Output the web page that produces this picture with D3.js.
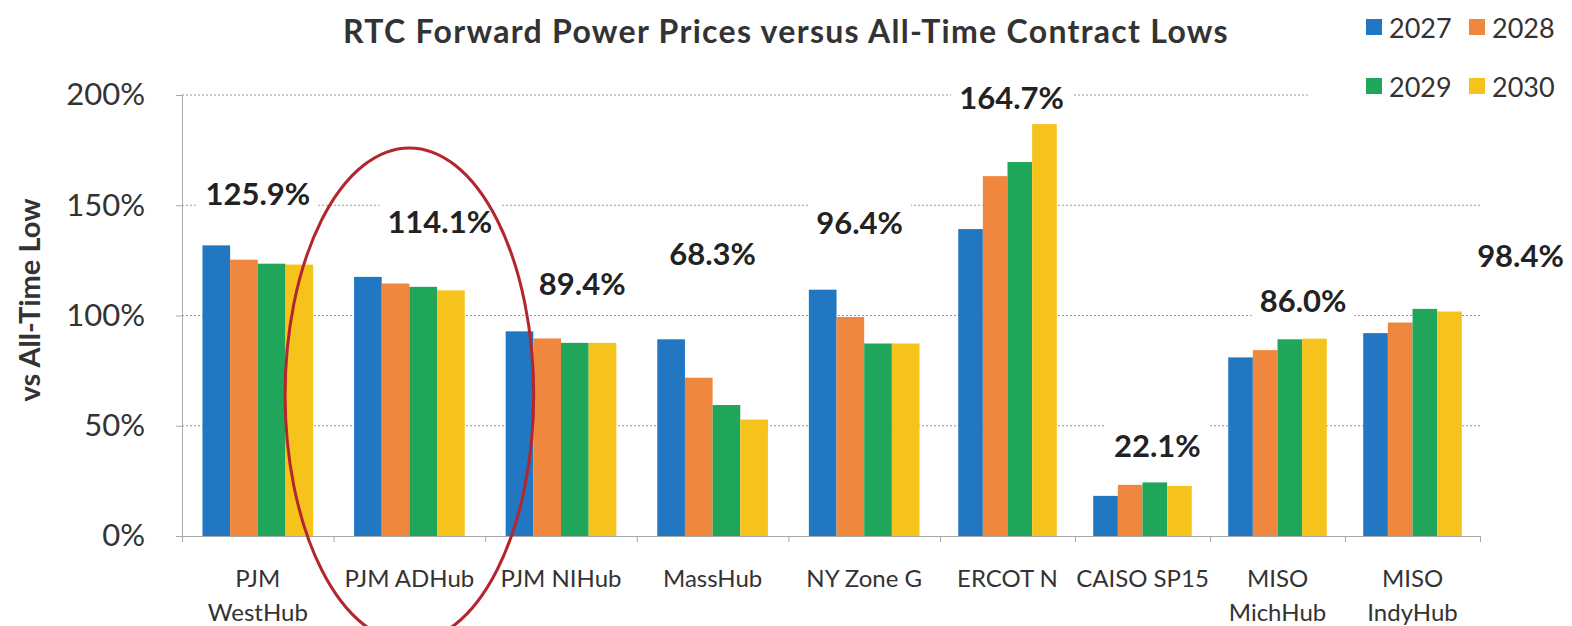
<!DOCTYPE html>
<html>
<head>
    <meta charset="utf-8">
    <title>RTC Forward Power Prices</title>
    <script src="https://d3js.org/d3.v7.min.js"></script>
<style>
html, body {
    margin: 0;
    padding: 0;
    background: #fff;
}
svg {
    display: block;
    font-family: Lato, "Open Sans", sans-serif;
}
</style>
</head>
<body>
<div id="chart"></div>
<script>
const categories = [['PJM', 'WestHub'], ['PJM ADHub'], ['PJM NIHub'], ['MassHub'], ['NY Zone G'],
    ['ERCOT N'], ['CAISO SP15'], ['MISO', 'MichHub'], ['MISO', 'IndyHub']];
const years = ['2027', '2028', '2029', '2030'];
const v2027 = [131.8, 117.5, 92.8, 89.2, 111.7, 139.2, 18.2, 81.0, 92.0];
const v2028 = [125.3, 114.5, 89.6, 71.8, 99.3, 163.2, 23.2, 84.3, 96.8];
const v2029 = [123.5, 113.0, 87.6, 59.4, 87.3, 169.6, 24.3, 89.2, 103.0];
const v2030 = [123.1, 111.4, 87.6, 52.8, 87.3, 186.8, 22.7, 89.5, 101.8];
const avgLabels = ['125.9%', '114.1%', '89.4%', '68.3%', '96.4%', '164.7%', '22.1%', '86.0%', '98.4%'];
// where each average label sits: category index units across, percent units up
const labelAt = [0.5, 1.7, 2.64, 3.5, 4.47, 5.53, 6.61, 7.69, 9.3];
const labelLevel = [155.6, 142.9, 114.7, 128.3, 142.4, 199.1, 41.3, 107, 127.4];
const yTicks = [0, 50, 100, 150, 200];

const colors = { '2027': '#2177c2', '2028': '#f0873f', '2029': '#20a65a', '2030': '#f6c31c' };
const series = { '2027': v2027, '2028': v2028, '2029': v2029, '2030': v2030 };

const W = 1572, H = 626;
const svg = d3.select('#chart').append('svg').attr('width', W).attr('height', H);

// the source picture is stretched unevenly, so the category axis is piecewise
const x = d3.scaleLinear().domain([0, 5, 9]).range([182, 940, 1480]);
const y = d3.scaleLinear().domain([0, 200]).range([536, 95]);

// grid
svg.append('g')
    .selectAll('line')
    .data(yTicks.filter(d => d > 0))
    .join('line')
    .attr('x1', x(0)).attr('x2', x(9))
    .attr('y1', d => y(d)).attr('y2', d => y(d))
    .attr('stroke', '#9a9a9a')
    .attr('stroke-width', 1)
    .attr('stroke-dasharray', '2,2');

// bars
const groups = svg.append('g')
    .selectAll('g')
    .data(categories)
    .join('g');

groups.each(function (c, i) {
    const x0 = x(i), x1 = x(i + 1);
    const pad = (x1 - x0) * 0.135;
    const inner = d3.scaleBand().domain(years).range([x0 + pad, x1 - pad]);
    d3.select(this).selectAll('rect')
        .data(years)
        .join('rect')
        .attr('x', yr => inner(yr))
        .attr('width', inner.bandwidth())
        .attr('y', yr => y(series[yr][i]))
        .attr('height', yr => y(0) - y(series[yr][i]))
        .attr('fill', yr => colors[yr]);
});

// axes
const yAxis = svg.append('g')
    .attr('transform', `translate(${x(0)},0)`)
    .call(d3.axisLeft(y).tickValues(yTicks).tickFormat(d => d + '%').tickSize(6).tickPadding(31));
yAxis.select('.domain').attr('stroke', '#a8a8a8');
yAxis.selectAll('.tick line').attr('stroke', '#a8a8a8');
yAxis.selectAll('.tick text')
    .attr('font-size', 31)
    .attr('fill', '#333')
    .attr('font-family', 'Lato, sans-serif');

const xAxis = svg.append('g')
    .attr('transform', `translate(0,${y(0)})`)
    .call(d3.axisBottom(x).tickValues(d3.range(0, 10)).tickFormat('').tickSize(6).tickSizeOuter(0));
xAxis.select('.domain').attr('stroke', '#a8a8a8');
xAxis.selectAll('.tick line').attr('stroke', '#a8a8a8');

const xl = svg.append('g')
    .selectAll('text')
    .data(categories)
    .join('text')
    .attr('text-anchor', 'middle')
    .attr('font-size', 24)
    .attr('fill', '#333')
    .attr('transform', (d, i) => `translate(${x(i + 0.5)},587)`);
xl.selectAll('tspan')
    .data(d => d)
    .join('tspan')
    .attr('x', 0)
    .attr('dy', (d, j) => j === 0 ? 0 : 34)
    .text(d => d);

// y title
svg.append('text')
    .attr('transform', `translate(40,300) rotate(-90)`)
    .attr('text-anchor', 'middle')
    .attr('font-size', 29)
    .attr('font-weight', 'bold')
    .attr('fill', '#333')
    .text('vs All-Time Low');

// chart title
svg.append('text')
    .attr('x', 786)
    .attr('y', 43)
    .attr('text-anchor', 'middle')
    .attr('font-size', 32)
    .attr('font-weight', 'bold')
    .attr('letter-spacing', 1.3)
    .attr('fill', '#333')
    .text('RTC Forward Power Prices versus All-Time Contract Lows');

// average labels with white boxes over the grid
const lab = svg.append('g')
    .selectAll('g')
    .data(avgLabels)
    .join('g')
    .attr('transform', (d, i) => `translate(${x(labelAt[i])},${y(labelLevel[i])})`);
lab.append('rect').attr('fill', '#fff');
lab.append('text')
    .attr('text-anchor', 'middle')
    .attr('dominant-baseline', 'central')
    .attr('font-size', 31)
    .attr('font-weight', 'bold')
    .attr('fill', '#222')
    .text(d => d);
lab.each(function () {
    const b = d3.select(this).select('text').node().getBBox();
    d3.select(this).select('rect')
        .attr('x', b.x - 8).attr('y', b.y - 2)
        .attr('width', b.width + 16).attr('height', b.height + 4);
});

// legend
const legend = svg.append('g');
legend.append('rect')
    .attr('x', 1308).attr('y', 0).attr('width', 264).attr('height', 110)
    .attr('fill', '#fff');
const li = legend.selectAll('g.item')
    .data(years)
    .join('g')
    .attr('class', 'item')
    .attr('transform', (d, i) => `translate(${1366 + (i % 2) * 103},${27 + Math.floor(i / 2) * 59})`);
li.append('rect')
    .attr('x', 0).attr('y', -8).attr('width', 16).attr('height', 16)
    .attr('fill', d => colors[d]);
li.append('text')
    .attr('x', 23)
    .attr('dominant-baseline', 'central')
    .attr('font-size', 27)
    .attr('fill', '#333')
    .text(d => d);

// red ring drawn around PJM ADHub
svg.append('ellipse')
    .attr('cx', x(1.5))
    .attr('cy', y(64))
    .attr('rx', x(1.5) - x(0.68))
    .attr('ry', y(0) - y(112))
    .attr('fill', 'none')
    .attr('stroke', '#b3262d')
    .attr('stroke-width', 3);
</script>
</body>
</html>
